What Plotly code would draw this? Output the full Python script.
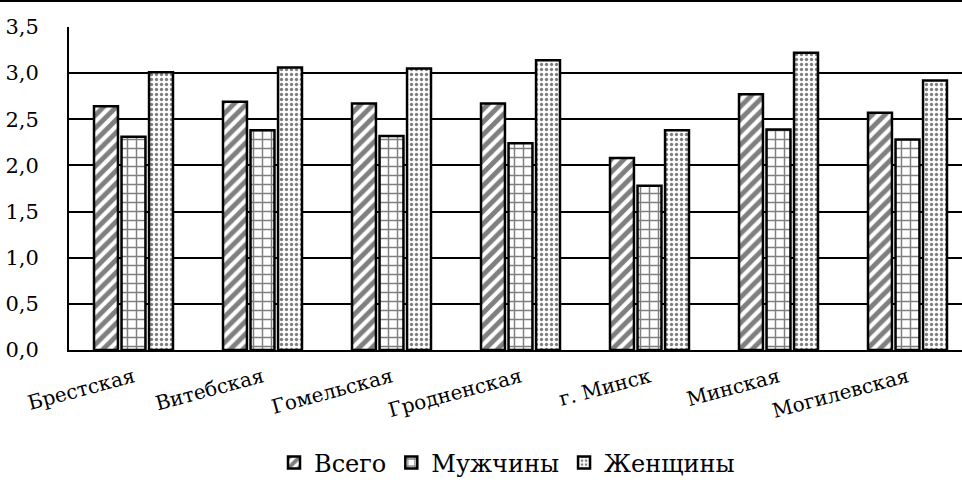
import plotly.graph_objects as go

# Regions of Belarus
regions = ["Брестская", "Витебская", "Гомельская", "Гродненская",
           "г. Минск", "Минская", "Могилевская"]

series_names = ["Всего", "Мужчины", "Женщины"]
vals_total = [2.64, 2.69, 2.67, 2.67, 2.08, 2.77, 2.57]
vals_men = [2.31, 2.38, 2.32, 2.24, 1.78, 2.39, 2.28]
vals_women = [3.01, 3.06, 3.05, 3.14, 2.38, 3.22, 2.92]

y_ticks = [0.0, 0.5, 1.0, 1.5, 2.0, 2.5, 3.0, 3.5]

FONT = "DejaVu Serif"

patterns = [
    dict(shape="/", size=9, solidity=0.55, fgcolor="black", bgcolor="white"),
    dict(shape="+", size=9, solidity=0.3, fgcolor="black", bgcolor="white"),
    dict(shape=".", size=5, solidity=0.35, fgcolor="black", bgcolor="white"),
]

fig = go.Figure()
for name, vals, pat in zip(series_names, [vals_total, vals_men, vals_women], patterns):
    fig.add_trace(go.Bar(
        x=regions, y=vals, name=name,
        marker=dict(color="white", pattern=pat,
                    line=dict(color="black", width=2.5)),
    ))

W, H = 962, 489
ml, mr, mt, mb = 69, 0, 27, 139
plot_w = W - ml - mr
plot_h = H - mt - mb

fig.update_layout(
    width=W, height=H,
    margin=dict(l=ml, r=mr, t=mt, b=mb, pad=0, autoexpand=False),
    paper_bgcolor="white", plot_bgcolor="white",
    separators=", ",
    barmode="group", bargap=0.36, bargroupgap=0.13,
    font=dict(family=FONT, color="black", size=20),
    showlegend=True,
    legend=dict(orientation="h", x=(507 - ml) / plot_w, xanchor="center",
                y=(350 - 463) / plot_h, yanchor="middle",
                font=dict(size=24, family=FONT), itemwidth=30,
                bgcolor="rgba(0,0,0,0)"),
    xaxis=dict(range=[-0.5, (W - ml) / 129 - 0.5], tickangle=-15,
               tickfont=dict(size=20, family=FONT), showgrid=False,
               showline=True, linecolor="black", linewidth=2,
               ticks="", ticklabelstandoff=6, automargin=False),
    yaxis=dict(range=[0, 3.5], tickvals=y_ticks, tickformat=".1f",
               tickfont=dict(size=21, family=FONT),
               showgrid=True, gridcolor="black", gridwidth=1.6,
               showline=True, linecolor="black", linewidth=2,
               zeroline=False, ticks="", ticklabelstandoff=24,
               automargin=False),
)

# frame line along the top of the figure
fig.add_shape(type="line", xref="paper", yref="paper",
              x0=-ml / plot_w, x1=1, y0=1 + (mt - 1) / plot_h, y1=1 + (mt - 1) / plot_h,
              line=dict(color="black", width=2))

fig.write_html("out.html")
